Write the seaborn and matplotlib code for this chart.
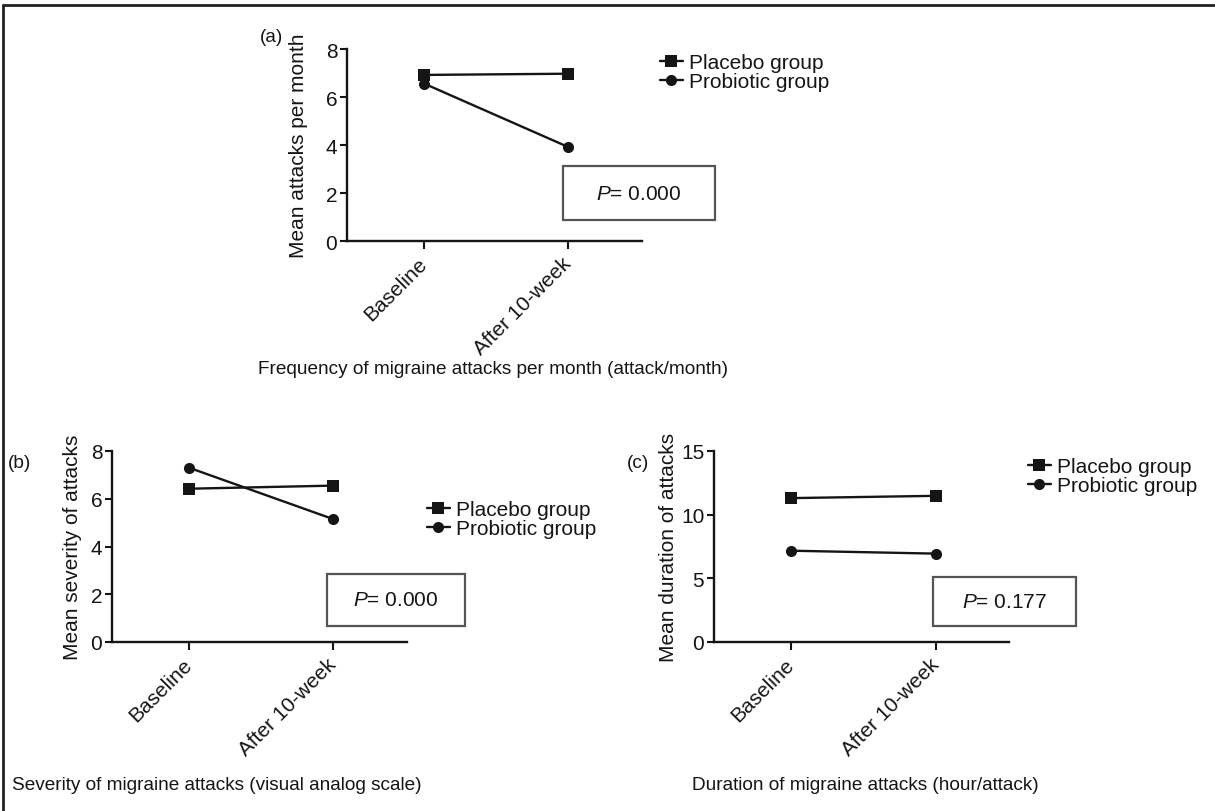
import matplotlib
matplotlib.use("Agg")
import matplotlib.pyplot as plt
from matplotlib.patches import Rectangle
from matplotlib.lines import Line2D
import seaborn as sns
import pandas as pd

# ---------------- data ----------------
timepoints = ["Baseline", "After 10-week"]
groups = ["Placebo group", "Probiotic group"]

freq_placebo = [6.92, 6.97]
freq_probiotic = [6.56, 3.92]

sev_placebo = [6.42, 6.55]
sev_probiotic = [7.30, 5.15]

dur_placebo = [11.3, 11.48]
dur_probiotic = [7.17, 6.94]

p_values = ["0.000", "0.000", "0.177"]
y_labels = ["Mean attacks per month", "Mean severity of attacks", "Mean duration of attacks"]
titles = ["Frequency of migraine attacks per month (attack/month)",
          "Severity of migraine attacks (visual analog scale)",
          "Duration of migraine attacks (hour/attack)"]
panel_letters = ["(a)", "(b)", "(c)"]
y_ticks = [[0, 2, 4, 6, 8], [0, 2, 4, 6, 8], [0, 5, 10, 15]]

# ---------------- style ----------------
sns.set_theme(style="ticks")
FONT = "Liberation Sans"
plt.rcParams["font.family"] = [FONT, "DejaVu Sans"]
plt.rcParams["mathtext.fontset"] = "custom"
plt.rcParams["mathtext.it"] = FONT + ":italic"
plt.rcParams["mathtext.rm"] = FONT
FS = 15
FS_TITLE = 13.7
INK = "#151515"

W, H = 1215, 812
fig = plt.figure(figsize=(W / 100, H / 100), dpi=100)
fig.patch.set_facecolor("white")


def fx(x):
    return x / W


def fy(y):
    return 1 - y / H


def px_axes(left, right, top, bottom):
    return fig.add_axes([fx(left), fy(bottom), (right - left) / W, (bottom - top) / H])


def long_df(placebo, probiotic):
    rows = []
    for g, vals in zip(groups, [placebo, probiotic]):
        for t, v in zip(timepoints, vals):
            rows.append({"Time": t, "Value": v, "Group": g})
    return pd.DataFrame(rows)


panels = [
    dict(data=(freq_placebo, freq_probiotic), box=(347, 642, 50, 242), ylim=(0, 8),
         xlim=(-0.535, 1.514), ylab_x=298, letter=(260, 38),
         title=(258, 370), leg=(662, 63), pbox=(563, 715, 167, 221)),
    dict(data=(sev_placebo, sev_probiotic), box=(112, 407, 452, 643), ylim=(0, 8),
         xlim=(-0.535, 1.514), ylab_x=72, letter=(8, 463),
         title=(12, 786), leg=(429, 510), pbox=(327, 465, 575, 627)),
    dict(data=(dur_placebo, dur_probiotic), box=(714, 1009, 452, 643), ylim=(0, 15),
         xlim=(-0.531, 1.503), ylab_x=668, letter=(627, 463),
         title=(692, 786), leg=(1030, 467), pbox=(933, 1076, 578, 627)),
]

for i, p in enumerate(panels):
    l, r, t, b = p["box"]
    ax = px_axes(l, r, t, b)
    df = long_df(*p["data"])
    sns.lineplot(data=df, x="Time", y="Value", hue="Group", style="Group",
                 markers={"Placebo group": "s", "Probiotic group": "o"},
                 dashes=False, palette={g: INK for g in groups},
                 markersize=8, linewidth=1.7, markeredgewidth=0,
                 sort=False, ax=ax)
    handles, labels = ax.get_legend_handles_labels()
    ax.get_legend().remove()

    ax.set_xlim(*p["xlim"])
    ax.set_ylim(*p["ylim"])
    ax.set_yticks(y_ticks[i])
    ax.set_xticks([0, 1])
    ax.set_xticklabels(timepoints, rotation=45, ha="right", va="center",
                       rotation_mode="anchor", fontsize=FS, color=INK)
    ax.tick_params(axis="y", labelsize=FS, colors=INK, length=5, width=1.5, pad=2)
    ax.tick_params(axis="x", colors=INK, length=6, width=1.5, pad=8)
    for s in ["top", "right"]:
        ax.spines[s].set_visible(False)
    for s in ["left", "bottom"]:
        ax.spines[s].set_linewidth(1.7)
        ax.spines[s].set_color(INK)
    ax.set_xlabel("")
    ax.set_ylabel(y_labels[i], fontsize=FS, color=INK, va="center")
    ax.yaxis.set_label_coords((p["ylab_x"] - l) / (r - l), 0.5)
    ax.set_facecolor("none")

    # legend
    lx, ly = p["leg"]
    fig.legend(handles, labels, loc="center left",
               bbox_to_anchor=(fx(lx - 2), fy(ly + 10)),
               frameon=False, fontsize=FS, handlelength=1.1, handletextpad=0.3,
               labelspacing=0.0, borderpad=0, borderaxespad=0, labelcolor=INK)

    # p-value box
    bx0, bx1, by0, by1 = p["pbox"]
    fig.add_artist(Rectangle((fx(bx0), fy(by1)), (bx1 - bx0) / W, (by1 - by0) / H,
                             transform=fig.transFigure, fill=False,
                             edgecolor="#555555", linewidth=1.6))
    fig.text(fx((bx0 + bx1) / 2), fy((by0 + by1) / 2), r"$\it{P}$= " + p_values[i],
             ha="center", va="center", fontsize=FS, color=INK)

    # panel letter and title
    fig.text(fx(p["letter"][0]), fy(p["letter"][1]), panel_letters[i],
             ha="left", va="center", fontsize=FS_TITLE, color=INK)
    fig.text(fx(p["title"][0]), fy(p["title"][1]), titles[i],
             ha="left", va="center", fontsize=FS_TITLE, color=INK)

# outer frame (top and left)
fig.add_artist(Line2D([fx(3), fx(3)], [0, fy(6)], transform=fig.transFigure,
                      color="#222222", linewidth=2))
fig.add_artist(Line2D([fx(3), 1], [fy(6), fy(6)], transform=fig.transFigure,
                      color="#222222", linewidth=2))

fig.savefig("out.png", dpi=100, facecolor="white")
